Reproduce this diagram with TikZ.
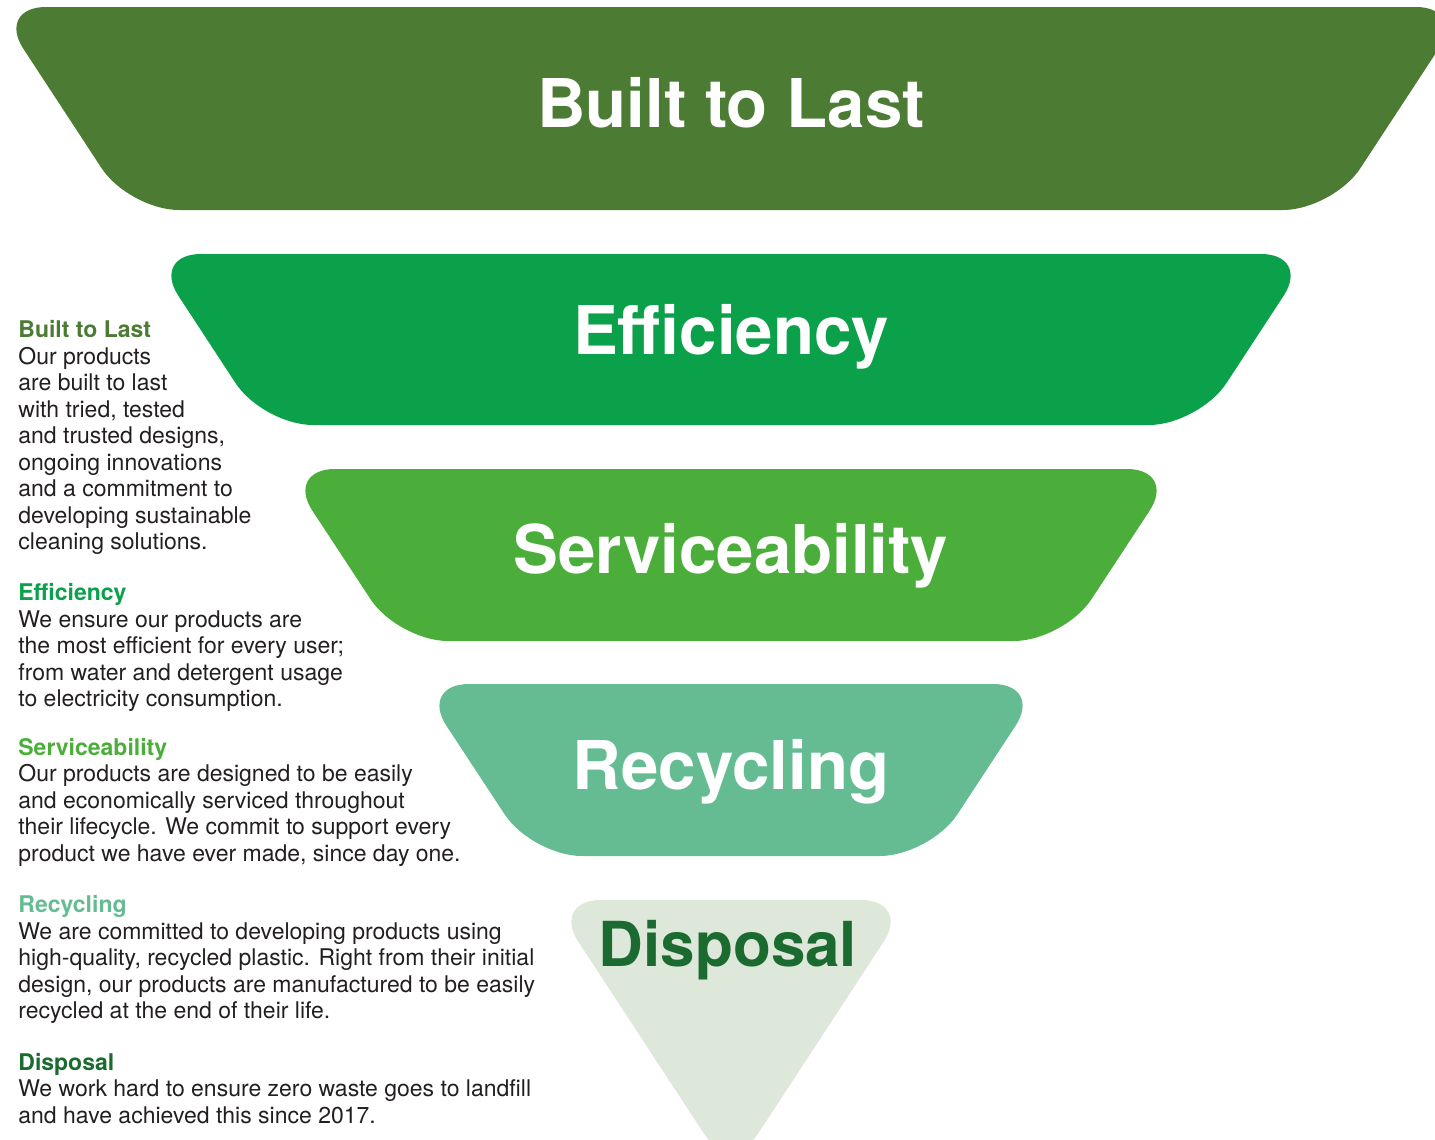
\documentclass[tikz,border=0pt]{standalone}
\usepackage{fontspec}
\setmainfont{TeX Gyre Heros}
\usepackage{xcolor}
\usetikzlibrary{positioning, calc}

\definecolor{lastgreen}{RGB}{76,123,52}
\definecolor{effgreen}{RGB}{11,160,74}
\definecolor{servgreen}{RGB}{75,174,58}
\definecolor{recgreen}{RGB}{101,188,147}
\definecolor{dispfill}{RGB}{221,231,218}
\definecolor{dispgreen}{RGB}{27,107,48}
\definecolor{bodytext}{RGB}{35,31,32}

\begin{document}
\begin{tikzpicture}[
    x=0.5pt, y=-0.5pt,
    band/.style={rounded corners=25pt},
    title/.style={font=\fontsize{33.6}{36}\selectfont\bfseries, text=white, inner sep=0pt, anchor=base},
    blurb/.style={font=\fontsize{11.5}{13.25}\selectfont, text=bodytext, align=left, inner sep=0pt, anchor=north west}
]
  \useasboundingbox (0,0) rectangle (1435,1140);
  \clip (0,0) rectangle (1435,1140);

  % Funnel bands, centred on x=731
  \fill[band, lastgreen] (-4,7) -- (1466,7) -- (1333,210) -- (129,210) -- cycle;
  \fill[band, effgreen] (151,254) -- (1311,254) -- (1199,425) -- (263,425) -- cycle;
  \fill[band, servgreen] (285,469) -- (1177,469) -- (1064,641) -- (398,641) -- cycle;
  \fill[band, recgreen] (419,684) -- (1043,684) -- (930,856) -- (532,856) -- cycle;
  \fill[band, dispfill] (551,900) -- (911,900) -- (731,1175) -- cycle;

  % Titles on the bands
  \node[title] (lasttitle) at (731,127) {Built to Last};
  \node[title] (efftitle) at (731,354) {Efficiency};
  \node[title] (servtitle) at (731,573) {Serviceability};
  \node[title] (rectitle) at (731,789) {Recycling};
  \node[title, font=\fontsize{31}{34}\selectfont\bfseries, text=dispgreen] (disptitle) at (728,966) {Disposal};

  % Descriptions on the left
  \node[blurb] (lastblurb) at (18,320) {\textcolor{lastgreen}{\bfseries Built to Last}\\
    Our products\\are built to last\\with tried, tested\\and trusted designs,\\
    ongoing innovations\\and a commitment to\\developing sustainable\\cleaning solutions.};
  \node[blurb, below right=14.2pt and 0pt of lastblurb.south west] (effblurb) {\textcolor{effgreen}{\bfseries Efficiency}\\
    We ensure our products are\\the most efficient for every user;\\
    from water and detergent usage\\to electricity consumption.};
  \node[blurb, below right=12.8pt and 0pt of effblurb.south west] (servblurb) {\textcolor{servgreen}{\bfseries Serviceability}\\
    Our products are designed to be easily\\and economically serviced throughout\\
    their lifecycle. We commit to support every\\product we have ever made, since day one.};
  \node[blurb, below right=14.2pt and 0pt of servblurb.south west] (recblurb) {\textcolor{recgreen}{\bfseries Recycling}\\
    We are committed to developing products using\\high-quality, recycled plastic. Right from their initial\\
    design, our products are manufactured to be easily\\recycled at the end of their life.};
  \node[blurb, below right=14.2pt and 0pt of recblurb.south west] (dispblurb) {\textcolor{dispgreen}{\bfseries Disposal}\\
    We work hard to ensure zero waste goes to landfill\\and have achieved this since 2017.};

\end{tikzpicture}
\end{document}
